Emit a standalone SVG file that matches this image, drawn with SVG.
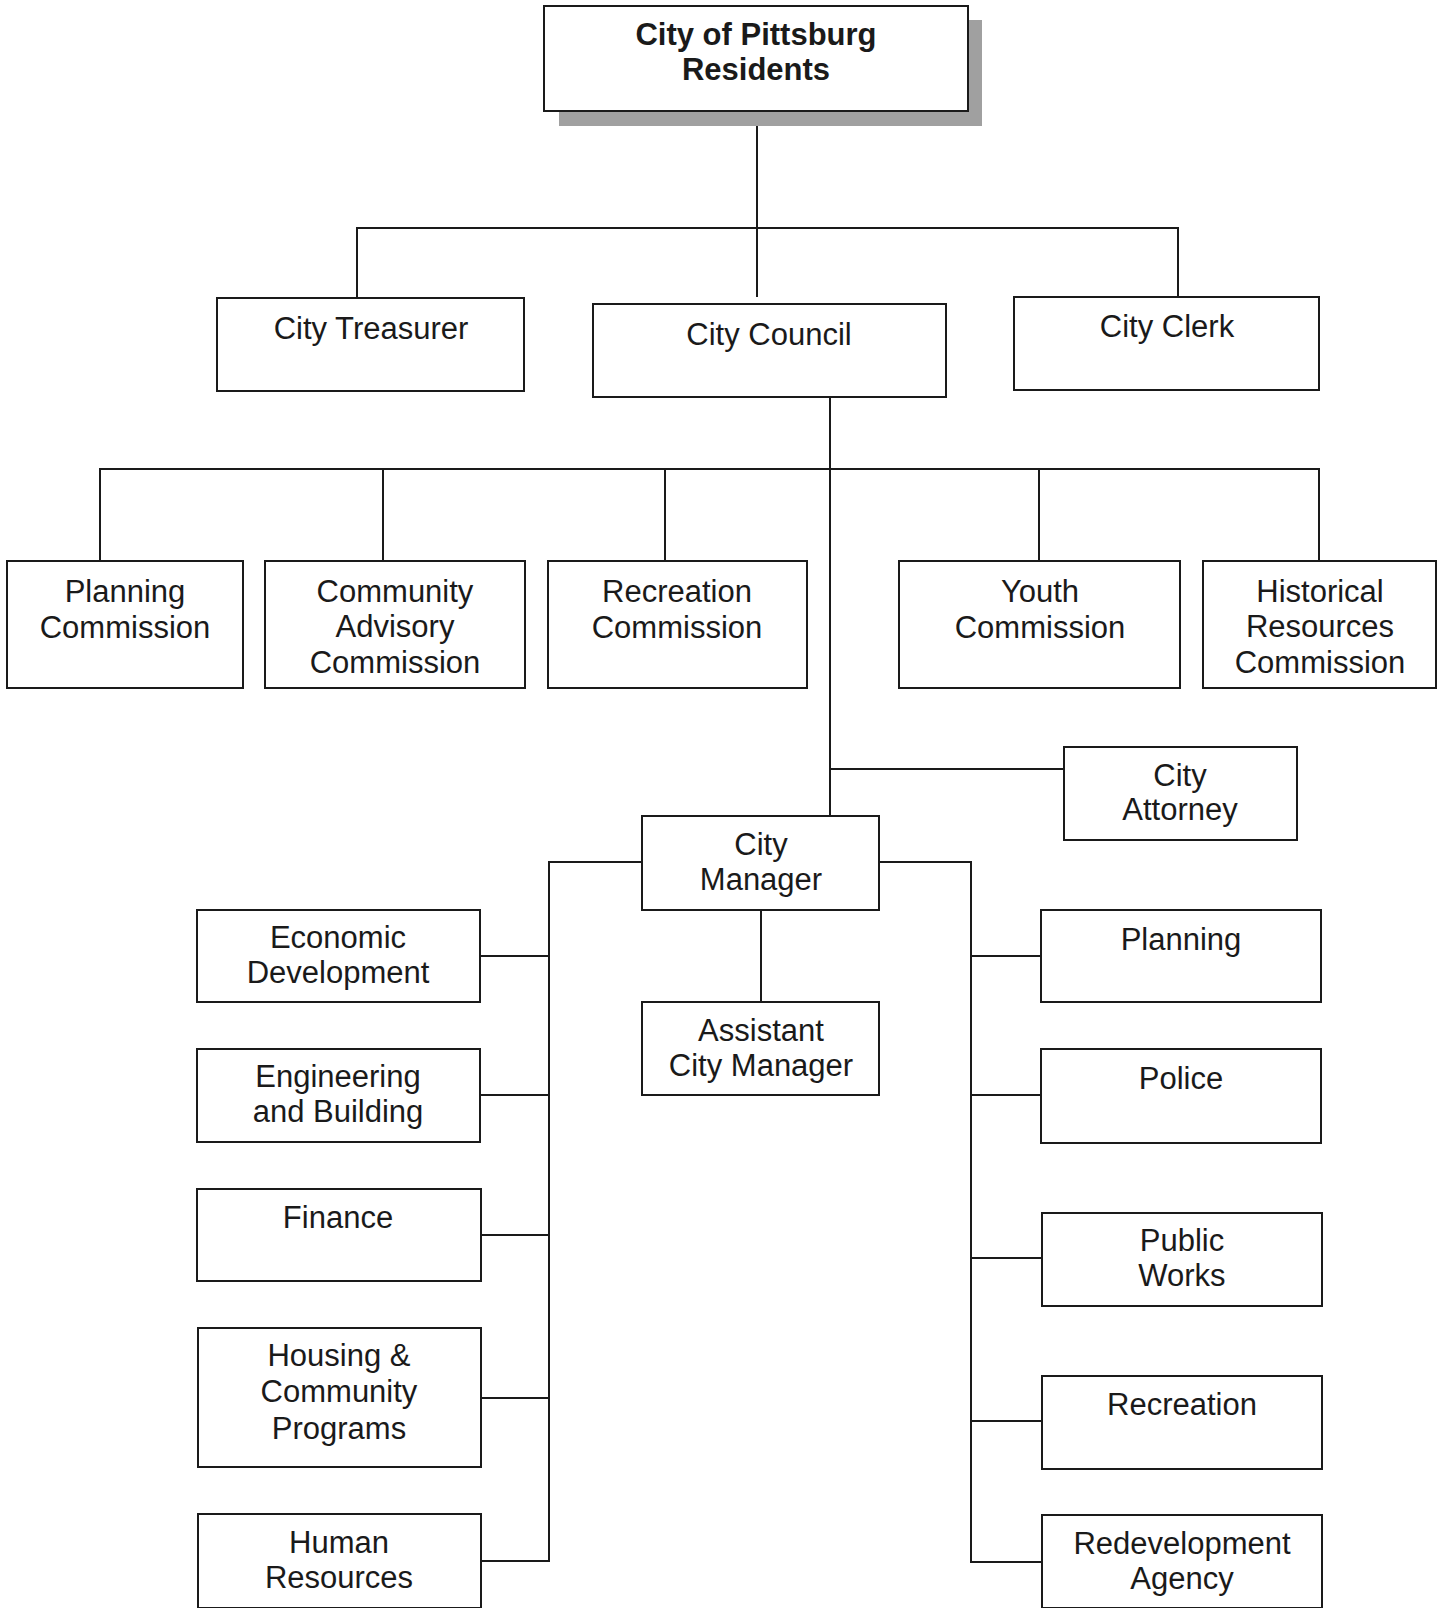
<svg xmlns="http://www.w3.org/2000/svg" width="1443" height="1608" viewBox="0 0 1443 1608">
<style>
.box{fill:#fff;stroke:#1a1a1a;stroke-width:2}
.shadow{fill:#a0a0a0}
.t{font-family:"Liberation Sans",Arial,sans-serif;font-size:31px;fill:#1a1a1a;text-anchor:middle}
.tb{font-family:"Liberation Sans",Arial,sans-serif;font-size:31px;font-weight:bold;fill:#1a1a1a;text-anchor:middle}
.c{fill:none;stroke:#1a1a1a;stroke-width:2}
</style>
<rect width="1443" height="1608" fill="#fff"/>
<g id="connectors">
<path class="c" d="M757 111 V297"/>
<path class="c" d="M357 298 V228 H1178 V297"/>
<path class="c" d="M830 397 V816"/>
<path class="c" d="M100 561 V469 H1319 V561"/>
<path class="c" d="M383 469 V561 M665 469 V561 M1039 469 V561"/>
<path class="c" d="M830 769 H1064"/>
<path class="c" d="M761 910 V1002"/>
<path class="c" d="M642 862 H549 V1561 H481"/>
<path class="c" d="M481 956 H549 M481 1095 H549 M481 1235 H549 M481 1398 H549"/>
<path class="c" d="M879 862 H971 V1562 H1041"/>
<path class="c" d="M971 956 H1041 M971 1095 H1041 M971 1258 H1041 M971 1421 H1041"/>
</g>
<g id="residents">
<rect class="shadow" x="559" y="20" width="423" height="106"/>
<rect class="box" x="544" y="6" width="424" height="105"/>
<text class="tb" x="756" y="45">City of Pittsburg</text>
<text class="tb" x="756" y="80">Residents</text>
</g>
<g id="city-treasurer">
<rect class="box" x="217" y="298" width="307" height="93"/>
<text class="t" x="371" y="339">City Treasurer</text>
</g>
<g id="city-council">
<rect class="box" x="593" y="304" width="353" height="93"/>
<text class="t" x="769" y="345">City Council</text>
</g>
<g id="city-clerk">
<rect class="box" x="1014" y="297" width="305" height="93"/>
<text class="t" x="1167" y="337">City Clerk</text>
</g>
<g id="planning-commission">
<rect class="box" x="7" y="561" width="236" height="127"/>
<text class="t" x="125" y="602">Planning</text>
<text class="t" x="125" y="638">Commission</text>
</g>
<g id="community-advisory-commission">
<rect class="box" x="265" y="561" width="260" height="127"/>
<text class="t" x="395" y="602">Community</text>
<text class="t" x="395" y="637">Advisory</text>
<text class="t" x="395" y="673">Commission</text>
</g>
<g id="recreation-commission">
<rect class="box" x="548" y="561" width="259" height="127"/>
<text class="t" x="677" y="602">Recreation</text>
<text class="t" x="677" y="638">Commission</text>
</g>
<g id="youth-commission">
<rect class="box" x="899" y="561" width="281" height="127"/>
<text class="t" x="1040" y="602">Youth</text>
<text class="t" x="1040" y="638">Commission</text>
</g>
<g id="historical-resources-commission">
<rect class="box" x="1203" y="561" width="233" height="127"/>
<text class="t" x="1320" y="602">Historical</text>
<text class="t" x="1320" y="637">Resources</text>
<text class="t" x="1320" y="673">Commission</text>
</g>
<g id="city-attorney">
<rect class="box" x="1064" y="747" width="233" height="93"/>
<text class="t" x="1180" y="786">City</text>
<text class="t" x="1180" y="820">Attorney</text>
</g>
<g id="city-manager">
<rect class="box" x="642" y="816" width="237" height="94"/>
<text class="t" x="761" y="855">City</text>
<text class="t" x="761" y="890">Manager</text>
</g>
<g id="assistant-city-manager">
<rect class="box" x="642" y="1002" width="237" height="93"/>
<text class="t" x="761" y="1041">Assistant</text>
<text class="t" x="761" y="1076">City Manager</text>
</g>
<g id="economic-development">
<rect class="box" x="197" y="910" width="283" height="92"/>
<text class="t" x="338" y="948">Economic</text>
<text class="t" x="338" y="983">Development</text>
</g>
<g id="engineering-building">
<rect class="box" x="197" y="1049" width="283" height="93"/>
<text class="t" x="338" y="1087">Engineering</text>
<text class="t" x="338" y="1122">and Building</text>
</g>
<g id="finance">
<rect class="box" x="197" y="1189" width="284" height="92"/>
<text class="t" x="338" y="1228">Finance</text>
</g>
<g id="housing-community-programs">
<rect class="box" x="198" y="1328" width="283" height="139"/>
<text class="t" x="339" y="1366">Housing &amp;</text>
<text class="t" x="339" y="1402">Community</text>
<text class="t" x="339" y="1439">Programs</text>
</g>
<g id="human-resources">
<rect class="box" x="198" y="1514" width="283" height="94"/>
<text class="t" x="339" y="1553">Human</text>
<text class="t" x="339" y="1588">Resources</text>
</g>
<g id="planning">
<rect class="box" x="1041" y="910" width="280" height="92"/>
<text class="t" x="1181" y="950">Planning</text>
</g>
<g id="police">
<rect class="box" x="1041" y="1049" width="280" height="94"/>
<text class="t" x="1181" y="1089">Police</text>
</g>
<g id="public-works">
<rect class="box" x="1042" y="1213" width="280" height="93"/>
<text class="t" x="1182" y="1251">Public</text>
<text class="t" x="1182" y="1286">Works</text>
</g>
<g id="recreation">
<rect class="box" x="1042" y="1376" width="280" height="93"/>
<text class="t" x="1182" y="1415">Recreation</text>
</g>
<g id="redevelopment-agency">
<rect class="box" x="1042" y="1515" width="280" height="93"/>
<text class="t" x="1182" y="1554">Redevelopment</text>
<text class="t" x="1182" y="1589">Agency</text>
</g>
</svg>
